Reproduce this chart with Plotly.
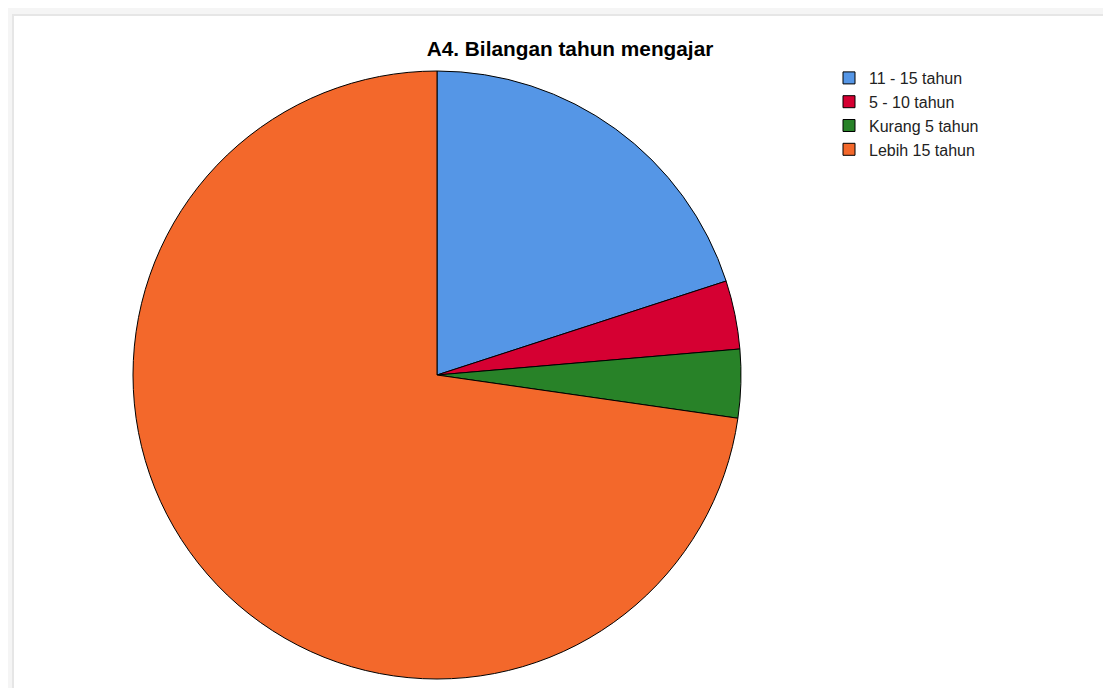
import plotly.graph_objects as go

W, H = 1111, 688
# the page body has an 8px margin; positions below are page pixels minus this offset
OFF = 8

categories = ["11 - 15 tahun", "5 - 10 tahun", "Kurang 5 tahun", "Lebih 15 tahun"]
counts = [11, 2, 2, 40]
colors = ["#5596E6", "#D50032", "#288228", "#F3682B"]
title_text = "A4. Bilangan tahun mengajar"


def px(x):
    return (x - OFF) / W


def py(y):
    return 1 - (y - OFF) / H


fig = go.Figure(go.Pie(
    labels=categories,
    values=counts,
    sort=False,
    direction="clockwise",
    rotation=0,
    textinfo="none",
    hoverinfo="label+value+percent",
    marker=dict(colors=colors, line=dict(color="#000000", width=1)),
    domain=dict(x=[px(133), px(741)], y=[py(679), py(71)]),
))

shapes = [
    dict(type="rect", xref="paper", yref="paper", x0=-0.1, x1=1.1, y0=py(14), y1=1.1,
         fillcolor="#f5f5f5", line=dict(width=0), layer="below"),
    dict(type="rect", xref="paper", yref="paper", x0=-0.1, x1=px(12), y0=-0.1, y1=1.1,
         fillcolor="#f5f5f5", line=dict(width=0), layer="below"),
    dict(type="rect", xref="paper", yref="paper", x0=px(12), x1=1.1, y0=py(16), y1=py(14),
         fillcolor="#e6e6e6", line=dict(width=0), layer="below"),
    dict(type="rect", xref="paper", yref="paper", x0=px(12), x1=px(14), y0=-0.1, y1=py(14),
         fillcolor="#e6e6e6", line=dict(width=0), layer="below"),
]

fig.update_layout(
    width=W, height=H,
    margin=dict(l=0, r=0, t=0, b=0),
    paper_bgcolor="#ffffff",
    plot_bgcolor="#ffffff",
    shapes=shapes,
    title=dict(text="<b>" + title_text + "</b>", x=px(570), xanchor="center",
               y=py(49), yanchor="middle", yref="paper",
               font=dict(family="Liberation Sans, Arial, sans-serif", size=20.8, color="#000000")),
    legend=dict(x=px(829), xanchor="left", y=py(61), yanchor="top",
                font=dict(family="Liberation Sans, Arial, sans-serif", size=16, color="#222222"),
                itemwidth=30, bgcolor="rgba(0,0,0,0)", tracegroupgap=0),
    showlegend=True,
)

fig.write_html("out.html")
